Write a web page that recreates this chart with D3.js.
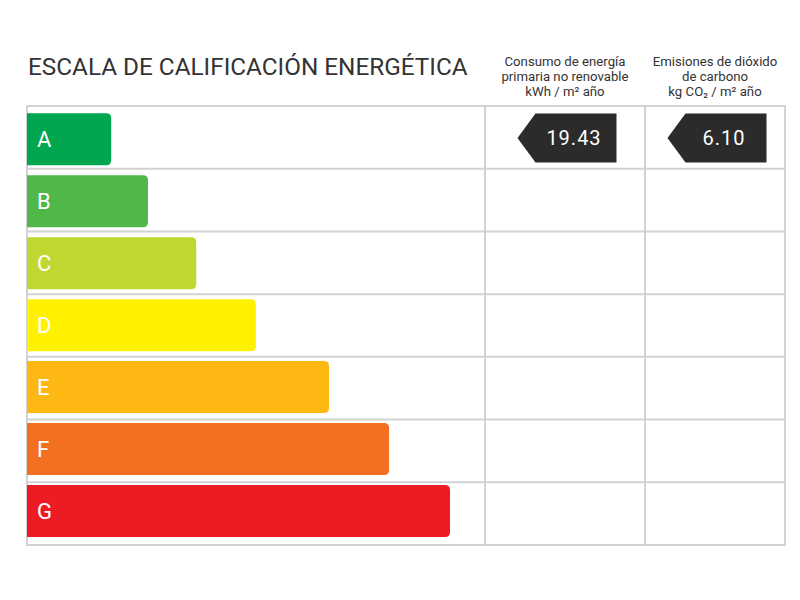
<!DOCTYPE html>
<html>
<head>
<meta charset="utf-8">
<script src="https://cdn.jsdelivr.net/npm/d3@7"></script>
<style>
  body { margin: 0; background: #fff; }
  svg text { font-family: Roboto, "Noto Sans", sans-serif; }
</style>
</head>
<body>
<svg id="chart" width="800" height="600"></svg>
<script>
// energy rating scale
const ratings = ["A", "B", "C", "D", "E", "F", "G"];
const ratingColors = ["#00a650", "#4fb848", "#bfd730", "#fff100", "#fdb813", "#f36f21", "#ed1c24"];
// relative bar lengths (G = 100)
const barValues = [19.9, 28.6, 40, 54.1, 71.4, 85.6, 100];

const colHeaders = [
    ["Consumo de energía", "primaria no renovable", "kWh / m² año"],
    ["Emisiones de dióxido", "de carbono", "kg CO₂ / m² año"]
];
const resultValues = ["19.43", "6.10"];
const resultRatings = ["A", "A"];

const titleText = "ESCALA DE CALIFICACIÓN ENERGÉTICA";

let svg = d3.select("#chart");

let tLeft = 27, tRight = 785, tTop = 106, tBottom = 545;
let colEdges = [tLeft, 485, 645, tRight];

/* table rows */
let y = d3.scaleBand()
    .domain(ratings)
    .range([tTop, tBottom]);

/* bars sit on their own slightly tighter pitch */
let yBar = d3.scaleBand()
    .domain(ratings)
    .range([113.3, 537])
    .paddingInner(10 / 62);

let x = d3.scaleLinear()
    .domain([0, 100])
    .range([tLeft, 450]);

let gridColor = "#d2d2d2";

/* title */
svg.append("text")
    .attr("x", tLeft + 1)
    .attr("y", 75)
    .attr("font-size", 24.3)
    .attr("fill", "#333")
    .text(titleText);

/* column headers */
colHeaders.forEach(function(lines, i) {
    let cx = (colEdges[i + 1] + colEdges[i + 2]) / 2;
    svg.append("text")
        .attr("text-anchor", "middle")
        .attr("font-size", 13.2)
        .attr("fill", "#333")
        .selectAll("tspan")
        .data(lines)
        .enter()
        .append("tspan")
        .attr("x", cx)
        .attr("y", function(d, j) { return 66 + j * 15; })
        .text(function(d) { return d; });
});

/* grid */
let grid = svg.append("g")
    .attr("stroke", gridColor)
    .attr("stroke-width", 2)
    .attr("fill", "none");

grid.selectAll("line.row")
    .data(ratings.slice(1))
    .enter()
    .append("line")
    .attr("x1", tLeft).attr("x2", tRight)
    .attr("y1", function(d) { return y(d); })
    .attr("y2", function(d) { return y(d); });

grid.selectAll("line.col")
    .data(colEdges.slice(1, 3))
    .enter()
    .append("line")
    .attr("x1", function(d) { return d; })
    .attr("x2", function(d) { return d; })
    .attr("y1", tTop).attr("y2", tBottom);

grid.append("rect")
    .attr("x", tLeft).attr("y", tTop)
    .attr("width", tRight - tLeft)
    .attr("height", tBottom - tTop);

/* bars: square on the left, rounded on the right */
let r = 5;
function barPath(x0, x1, y0, h) {
    return "M" + x0 + "," + y0 +
        "H" + (x1 - r) +
        "Q" + x1 + "," + y0 + " " + x1 + "," + (y0 + r) +
        "V" + (y0 + h - r) +
        "Q" + x1 + "," + (y0 + h) + " " + (x1 - r) + "," + (y0 + h) +
        "H" + x0 + "Z";
}

let bars = svg.selectAll("g.bar")
    .data(ratings)
    .enter()
    .append("g")
    .attr("class", "bar");

bars.append("path")
    .attr("fill", function(d, i) { return ratingColors[i]; })
    .attr("d", function(d, i) { return barPath(x(0), x(barValues[i]), yBar(d), yBar.bandwidth()); });

bars.append("text")
    .attr("x", tLeft + 10)
    .attr("y", function(d) { return yBar(d) + yBar.bandwidth() / 2; })
    .attr("dy", "0.35em")
    .attr("font-size", 22)
    .attr("fill", "#fff")
    .text(function(d) { return d; });

/* result badges */
let badgeW = 99, badgeH = 49, tip = 18;
resultValues.forEach(function(v, i) {
    let cx = (colEdges[i + 1] + colEdges[i + 2]) / 2 + 2;
    let x0 = cx - badgeW / 2, x1 = cx + badgeW / 2;
    let y0 = y(resultRatings[i]) + 7.5;
    let g = svg.append("g");
    g.append("path")
        .attr("fill", "#2b2b2b")
        .attr("d", "M" + x0 + "," + (y0 + badgeH / 2) +
            "L" + (x0 + tip) + "," + y0 +
            "H" + x1 + "V" + (y0 + badgeH) +
            "H" + (x0 + tip) + "Z");
    g.append("text")
        .attr("x", (x0 + tip + x1) / 2 - 2)
        .attr("y", y0 + badgeH / 2)
        .attr("dy", "0.36em")
        .attr("text-anchor", "middle")
        .attr("font-size", 20)
        .attr("letter-spacing", 1)
        .attr("fill", "#fff")
        .text(v);
});
</script>
</body>
</html>
